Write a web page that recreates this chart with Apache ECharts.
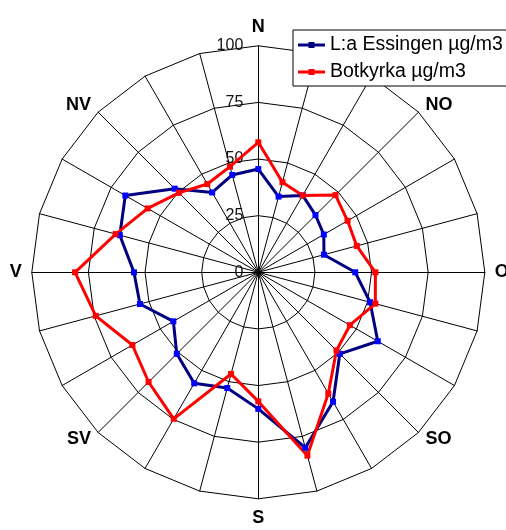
<!DOCTYPE html>
<html>
<head>
<meta charset="utf-8">
<script src="https://cdn.jsdelivr.net/npm/echarts@6/dist/echarts.min.js"></script>
<style>
html,body{margin:0;padding:0;background:#fff;}
#chart{width:506px;height:530px;}
</style>
</head>
<body>
<div id="chart"></div>
<script>
// Compass directions, clockwise from N in 15° steps
var directions = ['N','','','NO','','','O','','','SO','','','S','','','SV','','','V','','','NV','',''];
var seriesNames = ['L:a Essingen µg/m3', 'Botkyrka µg/m3'];
var essingen = [45.6, 34.6, 39.2, 35.7, 33.4, 30.0, 42.8, 51.1, 60.9, 50.9, 66.0, 80.2,
                60.3, 52.9, 56.6, 50.9, 43.3, 54.1, 54.9, 63.3, 67.8, 52.2, 40.7, 44.5];
var botkyrka = [57.4, 41.2, 39.2, 48.2, 45.5, 45.0, 51.7, 53.5, 46.7, 48.8, 61.8, 83.8,
                57.0, 46.5, 74.7, 68.5, 64.2, 74.3, 80.9, 65.2, 56.4, 49.6, 45.0, 48.3];
var radiusTicks = [0, 25, 50, 75, 100];

// ECharts radar runs counter-clockwise; reorder so compass order runs clockwise
function ccw(arr){ var n = arr.length; return arr.map(function(_, i){ return arr[(n - i) % n]; }); }

var FONT = '"Liberation Sans", Arial, sans-serif';
var CX = 258.3, CY = 272.3, R = 226.5;
var legendIcon = 'path://M0,1.5L27,1.5L27,4.5L0,4.5Z M10.5,0L16.5,0L16.5,6L10.5,6Z';

var chart = echarts.init(document.getElementById('chart'), null, {renderer: 'canvas'});
chart.setOption({
  animation: false,
  backgroundColor: '#fff',
  radar: {
    center: [CX, CY],
    radius: R,
    startAngle: 90,
    shape: 'polygon',
    splitNumber: radiusTicks.length - 1,
    indicator: ccw(directions).map(function(d){ return {name: d, min: radiusTicks[0], max: radiusTicks[radiusTicks.length-1]}; }),
    nameGap: 10,
    axisName: {color: '#000', fontFamily: FONT, fontWeight: 'bold', fontSize: 18},
    axisLine: {lineStyle: {color: '#000', width: 1}},
    splitLine: {lineStyle: {color: '#000', width: 1}},
    splitArea: {show: false},
    axisTick: {show: false},
    axisLabel: {show: false}
  },
  polar: {center: [CX, CY], radius: R},
  angleAxis: {type: 'value', startAngle: 90, show: false, min: 0, max: 360},
  radiusAxis: {
    type: 'value', min: radiusTicks[0], max: radiusTicks[radiusTicks.length-1],
    interval: radiusTicks[1] - radiusTicks[0],
    axisLine: {show: false}, axisTick: {show: false}, splitLine: {show: false},
    axisLabel: {color: '#111', fontFamily: FONT, fontSize: 16, margin: 15}
  },
  legend: {
    orient: 'vertical',
    left: 293, top: 30,
    padding: [5, 14, 4, 5],
    itemGap: 7,
    itemWidth: 27, itemHeight: 6,
    borderColor: '#000', borderWidth: 1, backgroundColor: '#fff',
    selectedMode: false,
    textStyle: {color: '#000', fontFamily: FONT, fontSize: 19.5},
    data: [
      {name: seriesNames[0], icon: legendIcon, itemStyle: {color: '#000080', borderWidth: 0}},
      {name: seriesNames[1], icon: legendIcon, itemStyle: {color: '#ff0000', borderWidth: 0}}
    ]
  },
  series: [
    {
      type: 'radar', name: seriesNames[0],
      symbol: 'rect', symbolSize: 6,
      lineStyle: {color: '#000080', width: 3},
      itemStyle: {color: '#0000ff'},
      emphasis: {disabled: true},
      data: [{name: seriesNames[0], value: ccw(essingen)}]
    },
    {
      type: 'radar', name: seriesNames[1],
      symbol: 'rect', symbolSize: 6,
      lineStyle: {color: '#ff0000', width: 3},
      itemStyle: {color: '#ff0000'},
      emphasis: {disabled: true},
      data: [{name: seriesNames[1], value: ccw(botkyrka)}]
    }
  ]
});
</script>
</body>
</html>
